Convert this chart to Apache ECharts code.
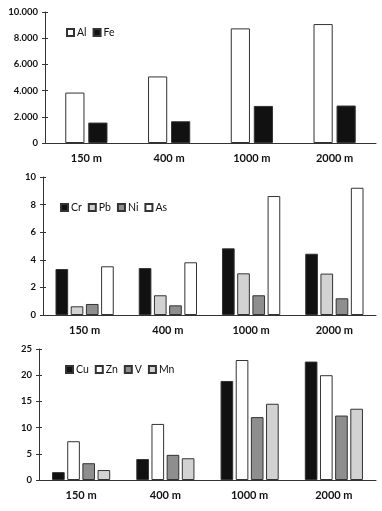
<!DOCTYPE html>
<html><head><meta charset="utf-8">
<script src="https://cdn.jsdelivr.net/npm/echarts@6/dist/echarts.min.js"></script>
<style>html,body{margin:0;padding:0;background:#fff}#c{width:382px;height:511px}</style>
</head><body><div id="c"></div>
<script>
const categories = ['150 m', '400 m', '1000 m', '2000 m'];
// Panel 1
const al = [3850, 5080, 8750, 9080];
const fe = [1560, 1660, 2830, 2860];
// Panel 2
const cr = [3.33, 3.4, 4.83, 4.44];
const pb = [0.63, 1.43, 3.02, 3.0];
const ni = [0.8, 0.7, 1.43, 1.21];
const as = [3.53, 3.82, 8.62, 9.22];
// Panel 3
const cu = [1.5, 4.0, 18.9, 22.6];
const zn = [7.4, 10.7, 22.9, 20.0];
const v  = [3.2, 4.8, 12.0, 12.3];
const mn = [1.9, 4.15, 14.55, 13.6];
// Axis ticks
const yMax = [10000, 10, 25];
const yStep = [2000, 2, 5];

const FONT = 'Lato';
const C = {black:'#111111', white:'#ffffff', light:'#d2d2d2', mid:'#8e8e8e'};
const grids = [
  {left:45, right:6, top:12, height:131},
  {left:43, right:6, top:177, height:138},
  {left:39, right:6, top:349, height:131}
];
const fmtDot = val => String(val).replace(/\B(?=(\d{3})+(?!\d))/g, '.');

const xAxes = [], yAxes = [];
for (let i = 0; i < 3; i++) {
  xAxes.push({type:'category', gridIndex:i, data:categories,
    axisLine:{lineStyle:{color:'#333', width:1}}, axisTick:{show:false},
    axisLabel:{fontFamily:FONT, fontWeight:'bold', fontSize:11, color:'#111', margin:10}});
  yAxes.push({type:'value', gridIndex:i, min:0, max:yMax[i], interval:yStep[i], position:'left',
    axisLine:{show:true, lineStyle:{color:'#333', width:1}},
    axisTick:{show:true, length:3, lineStyle:{color:'#333'}},
    splitLine:{show:false},
    axisLabel:{fontFamily:FONT, fontWeight:'bold', fontSize:9.5, color:'#111', margin:7,
      formatter: i === 0 ? fmtDot : null}});
  yAxes.push({type:'value', gridIndex:i, min:0, max:yMax[i], interval:yStep[i], position:'left',
    axisLine:{show:false}, axisTick:{show:true, inside:true, length:3, lineStyle:{color:'#333'}},
    splitLine:{show:false}, axisLabel:{show:false}});
}

function bar(name, data, gi, color, catGap) {
  return {name, type:'bar', xAxisIndex:gi, yAxisIndex:gi*2, data,
    barGap:'20%', barCategoryGap:catGap,
    itemStyle:{color, borderColor:'#333', borderWidth:1}};
}

const series = [
  bar('Al', al, 0, C.white, '49%'), bar('Fe', fe, 0, C.black, '49%'),
  bar('Cr', cr, 1, C.black, '30%'), bar('Pb', pb, 1, C.light, '30%'),
  bar('Ni', ni, 1, C.mid, '30%'), bar('As', as, 1, C.white, '30%'),
  bar('Cu', cu, 2, C.black, '31%'), bar('Zn', zn, 2, C.white, '31%'),
  bar('V', v, 2, C.mid, '31%'), bar('Mn', mn, 2, C.light, '31%')
];

function legend(names, left, top) {
  return {data:names, left, top, itemWidth:7, itemHeight:7, itemGap:6,
    icon:'rect', padding:0,
    textStyle:{fontFamily:FONT, fontSize:10.5, color:'#111', padding:[0,0,0,-2]}};
}

const chart = echarts.init(document.getElementById('c'), null, {renderer:'canvas'});
chart.setOption({
  animation:false,
  grid: grids,
  xAxis: xAxes,
  yAxis: yAxes,
  legend: [legend(['Al','Fe'], 66, 27), legend(['Cr','Pb','Ni','As'], 60, 202), legend(['Cu','Zn','V','Mn'], 65, 364)],
  series
});
</script></body></html>
